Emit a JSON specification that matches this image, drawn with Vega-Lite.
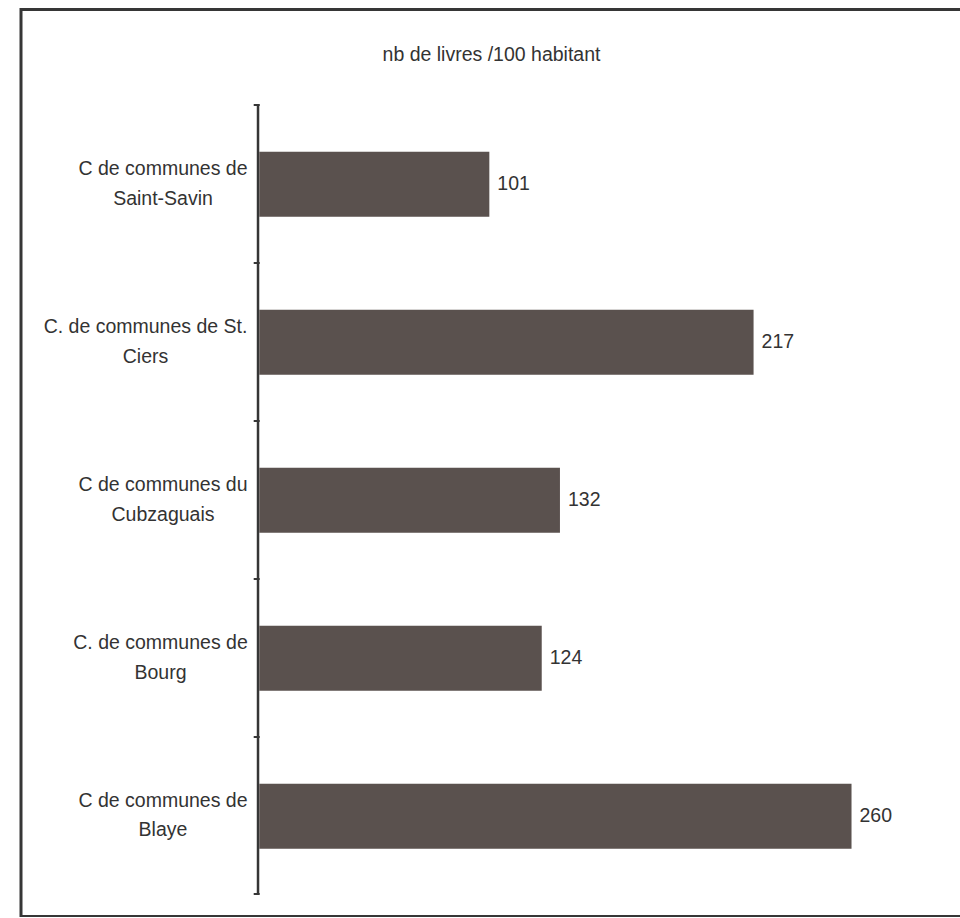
{
  "$schema": "https://vega.github.io/schema/vega-lite/v6.json",
  "autosize": {"type": "none"},
  "padding": {"left": 21, "top": 9.5, "right": 0, "bottom": 0},
  "width": 941,
  "height": 907,
  "background": "white",
  "config": {
    "view": {"stroke": "#363636", "strokeWidth": 3}
  },
  "title": {
    "text": "nb de livres /100 habitant",
    "font": "Liberation Sans",
    "fontSize": 19.5,
    "fontWeight": "normal",
    "color": "#333333",
    "anchor": "middle",
    "baseline": "alphabetic",
    "offset": -45.5,
    "dy": 35.5
  },
  "data": {
    "values": [
      {"commune": "C de communes de|Saint-Savin", "livres": 101},
      {"commune": "C. de communes de St.|Ciers", "livres": 217},
      {"commune": "C de communes du|Cubzaguais", "livres": 132},
      {"commune": "C. de communes de|Bourg", "livres": 124},
      {"commune": "C de communes de|Blaye", "livres": 260}
    ]
  },
  "layer": [
    {
      "mark": {"type": "rect", "color": "#363636"},
      "encoding": {
        "y": {
          "field": "commune",
          "type": "nominal",
          "sort": null,
          "scale": {"type": "band", "paddingInner": 0, "paddingOuter": 0.3703, "align": 0.8077},
          "axis": {
            "orient": "left",
            "offset": -238.2,
            "domain": false,
            "grid": false,
            "ticks": true,
            "tickBand": "extent",
            "tickSize": 6,
            "tickWidth": 2,
            "tickColor": "#363636",
            "labelAlign": "center",
            "labelBaseline": "middle",
            "labelOffset": -14.5,
            "labelPadding": {
              "condition": [
                {"test": "datum.value === 'C. de communes de St.|Ciers'", "value": 108.2},
                {"test": "datum.value === 'C. de communes de|Bourg'", "value": 93.2}
              ],
              "value": 90.7
            },
            "labelExpr": "isValid(datum.value) ? split(datum.value, '|') : ''",
            "labelLineHeight": 29.5,
            "labelFont": "Liberation Sans",
            "labelFontSize": 19.5,
            "labelColor": "#333333",
            "labelLimit": 400,
            "title": null
          }
        },
        "x": {"datum": -1.1, "type": "quantitative", "scale": {"domain": [-104.6, 308.5]}, "axis": null},
        "x2": {"datum": 0}
      }
    },
    {
      "mark": {"type": "bar", "color": "#5a514e"},
      "encoding": {
        "y": {
          "field": "commune",
          "type": "nominal",
          "sort": null,
          "scale": {"type": "band", "paddingInner": 0.5886, "paddingOuter": 0.6648, "align": 0.677},
          "axis": null
        },
        "x": {"field": "livres", "type": "quantitative", "scale": {"domain": [-104.6, 308.5]}, "axis": null}
      }
    },
    {
      "mark": {
        "type": "text",
        "align": "left",
        "baseline": "middle",
        "dx": 8,
        "font": "Liberation Sans",
        "fontSize": 19.5,
        "color": "#333333"
      },
      "encoding": {
        "y": {
          "field": "commune",
          "type": "nominal",
          "sort": null,
          "scale": {"type": "band", "paddingInner": 0.5886, "paddingOuter": 0.6648, "align": 0.677},
          "axis": null
        },
        "x": {"field": "livres", "type": "quantitative", "scale": {"domain": [-104.6, 308.5]}, "axis": null},
        "text": {"field": "livres", "type": "quantitative"}
      }
    }
  ],
  "resolve": {"scale": {"y": "independent"}, "axis": {"y": "independent"}}
}
